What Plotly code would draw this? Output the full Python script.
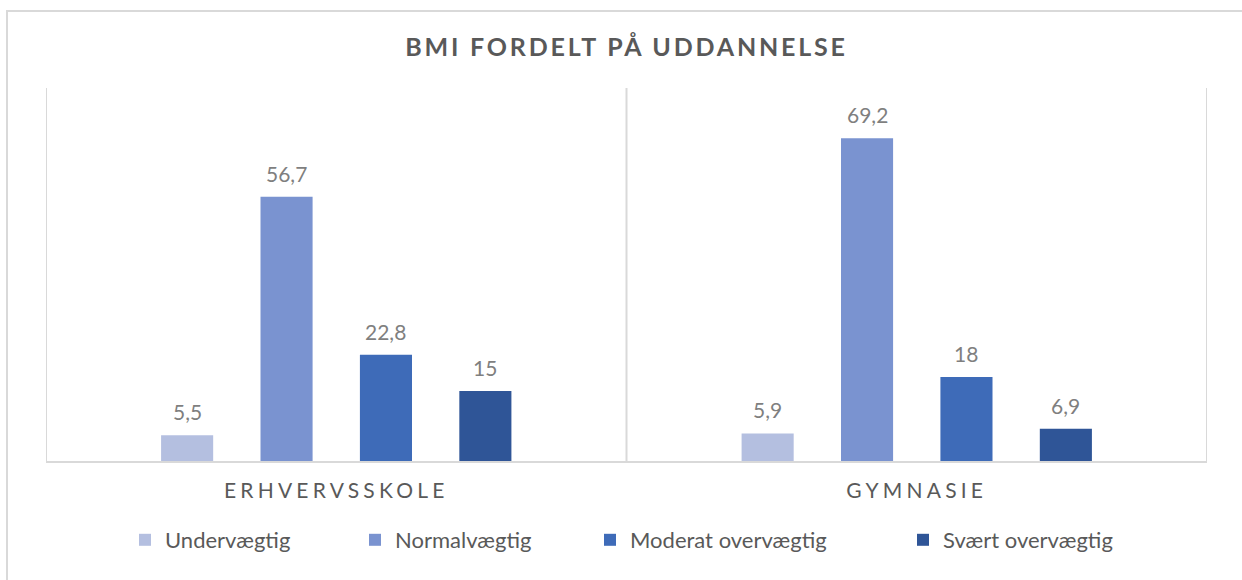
import plotly.graph_objects as go

categories = ["ERHVERVSSKOLE", "GYMNASIE"]
series_names = ["Undervægtig", "Normalvægtig", "Moderat overvægtig", "Svært overvægtig"]
undervaegtig = [5.5, 5.9]
normalvaegtig = [56.7, 69.2]
moderat = [22.8, 18.0]
svaert = [15.0, 6.9]
series_values = [undervaegtig, normalvaegtig, moderat, svaert]
colors = ["#B4BFE0", "#7A93D0", "#3E6BB8", "#2F5597"]
title_text = "BMI FORDELT PÅ UDDANNELSE"

W, H = 1242, 580
L, R, T, B = 46, 35, 88, 119
pw, ph = W - L - R, H - T - B
BARGAP = 0.315
BARGROUPGAP = 0.476

def fmt(v):
    s = ("%.1f" % v).rstrip("0").rstrip(".")
    return s.replace(".", ",")

FONT = "Lato"
fig = go.Figure()
legend_x_px = [147, 377, 612, 925]
n = len(series_names)
slot = (1 - BARGAP) / n
annotations = []
for i, (name, vals, col) in enumerate(zip(series_names, series_values, colors)):
    lg = "legend" if i == 0 else f"legend{i+1}"
    fig.add_trace(go.Bar(
        x=list(range(len(categories))), y=vals, name=name, marker_color=col,
        marker_line_width=0, legend=lg,
    ))
    off = (i - (n - 1) / 2) * slot
    for ci, v in enumerate(vals):
        annotations.append(dict(
            x=ci + off, y=v, xref="x", yref="y", text=fmt(v), showarrow=False,
            yanchor="bottom", xanchor="center", yshift=9,
            font=dict(color="#7F7F7F", size=21, family=FONT),
        ))

layout_legends = {}
for i, px in enumerate(legend_x_px):
    key = "legend" if i == 0 else f"legend{i+1}"
    layout_legends[key] = dict(
        x=(px - 22 - L) / pw, y=(461 - 540) / ph, xanchor="left", yanchor="middle",
        orientation="h", font=dict(size=22, color="#595959", family=FONT),
        bgcolor="rgba(0,0,0,0)", itemwidth=30,
    )

shapes = [
    dict(type="rect", xref="paper", yref="paper",
         x0=(7 - L) / pw, x1=(W + 20 - L) / pw,
         y0=(461 - (H + 20)) / ph, y1=(461 - 11) / ph,
         line=dict(color="#D9D9D9", width=2), fillcolor="rgba(0,0,0,0)", layer="below"),
]
for xv in [-0.5, 0.5, 1.5]:
    shapes.append(dict(type="line", xref="x", yref="paper", x0=xv, x1=xv, y0=0, y1=1,
                       line=dict(color="#D9D9D9", width=2), layer="below"))

fig.update_layout(
    width=W, height=H,
    margin=dict(l=L, r=R, t=T, b=B),
    paper_bgcolor="white", plot_bgcolor="white",
    title=dict(text=title_text, x=0.5, xref="paper", xanchor="center",
               y=1 - 47 / H, yanchor="middle",
               font=dict(size=25, color="#595959", family=FONT, weight="bold")),
    barmode="group", bargap=BARGAP, bargroupgap=BARGROUPGAP,
    xaxis=dict(showline=True, linecolor="#D9D9D9", linewidth=2, ticks="",
               tickmode="array", tickvals=list(range(len(categories))), ticktext=categories,
               tickfont=dict(size=21, color="#595959", family=FONT),
               ticklabelstandoff=10,
               range=[-0.5, 1.5], showgrid=False, zeroline=False, fixedrange=True),
    yaxis=dict(range=[0, 80], visible=False, showgrid=False, zeroline=False, fixedrange=True),
    shapes=shapes,
    annotations=annotations,
    showlegend=True,
    hovermode=False,
    **layout_legends,
)

post = """
document.body.style.margin='0';
var s=document.createElement('style');
s.innerHTML='body{margin:0;} .gtitle{letter-spacing:2.8px;} .xtick text{letter-spacing:4.2px;}';
document.head.appendChild(s);
"""
fig.write_html("out.html", post_script=post, config={"displayModeBar": False})
